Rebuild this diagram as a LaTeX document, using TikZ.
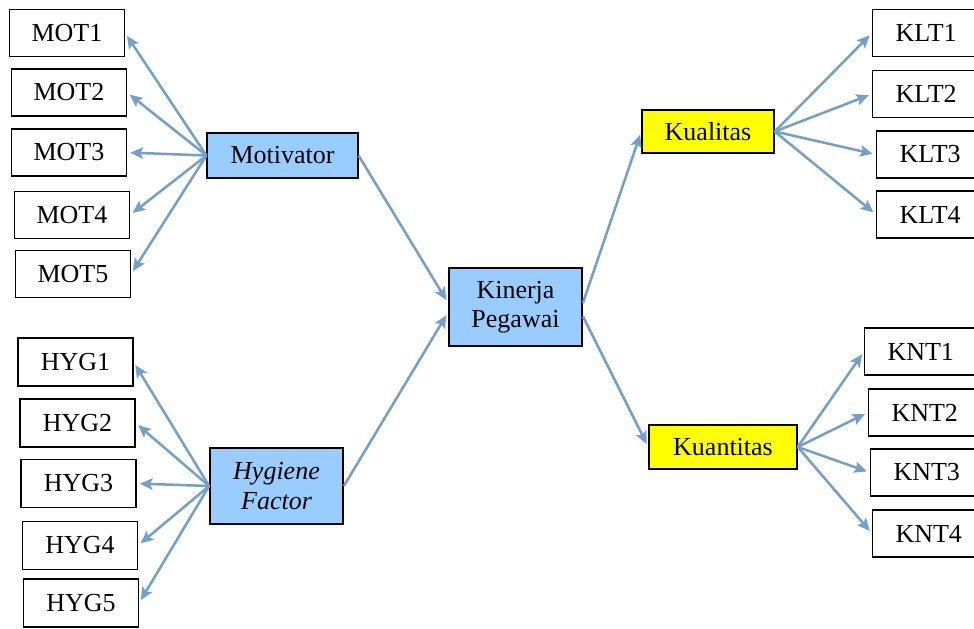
\documentclass[tikz,border=0pt]{standalone}
\usepackage{fontspec}
\setmainfont{Liberation Serif}
\usepackage{xcolor}
\usepackage{tikz}
\usetikzlibrary{positioning, arrows.meta}

\definecolor{panah}{HTML}{73A0CB}
\definecolor{biru}{HTML}{99CCFF}
\definecolor{kuning}{HTML}{FFFF00}

\begin{document}
\begin{tikzpicture}[x=0.75pt, y=-0.75pt,
    every node/.style={font=\fontsize{19.5}{22}\selectfont},
    indbox/.style={draw, line width=1.1pt, minimum width=86pt, minimum height=35pt, inner sep=0pt},
    varbox/.style={draw, line width=1.1pt, fill=biru, inner sep=0pt, align=center},
    dimbox/.style={draw, line width=1.1pt, fill=kuning, inner sep=0pt},
    link/.style={-{Stealth[length=9.5pt, width=8.5pt, inset=2pt]}, color=panah, line width=1.9pt, shorten >=2.5pt}]
          \useasboundingbox (0,0) rectangle (974,628);
          % variabel utama
          \node[varbox, minimum width=113pt, minimum height=34pt] (mtv) at (282.5,155.5) {Motivator};
          \node[varbox, minimum width=100pt, minimum height=57pt] (hyg) at (276.5,486) {\itshape Hygiene\\ \itshape Factor};
          \node[varbox, minimum width=100pt, minimum height=58.5pt] (kin) at (515.5,307) {Kinerja\\ Pegawai};
          \node[dimbox, minimum width=99pt, minimum height=32pt] (klt) at (708,131.5) {Kualitas};
          \node[dimbox, minimum width=111pt, minimum height=33pt] (knt) at (723,447) {Kuantitas};
          % indikator
          \foreach \i/\x/\y in {1/67/33, 2/69/92.5, 3/69/152.5, 4/72/215, 5/73/274} {
            \node[indbox] (mot\i) at (\x,\y) {MOT\i};
            \draw[link] (mtv.west) -- (mot\i.east);
          }
          \foreach \i/\x/\y in {1/75.5/362, 2/77.5/423, 3/78.5/483.5, 4/80/545.5, 5/81/603} {
            \node[indbox, minimum height=36pt] (hyg\i) at (\x,\y) {HYG\i};
            \draw[link] (hyg.west) -- (hyg\i.east);
          }
          \foreach \i/\x/\y in {1/872/33, 2/872/94, 3/876/154.5, 4/876/214.5} {
            \node[indbox, anchor=west, minimum width=80pt, text width=74pt, align=center] (klt\i) at (\x,\y) {KLT\i};
            \draw[link] (klt.east) -- (klt\i.west);
          }
          \foreach \i/\x/\y in {1/864/351.5, 2/868/412.5, 3/870/472.5, 4/872/533.5} {
            \node[indbox, anchor=west, minimum width=84pt, text width=78pt, align=center] (knt\i) at (\x,\y) {KNT\i};
            \draw[link] (knt.east) -- (knt\i.west);
          }
          % hubungan antar variabel
          \draw[link] (mtv.east) -- ([yshift=3pt]kin.west);
          \draw[link] (hyg.east) -- ([yshift=-4pt]kin.west);
          \draw[link] ([yshift=3pt]kin.east) -- (klt.west);
          \draw[link] ([yshift=-7pt]kin.east) -- (knt.west);
        \end{tikzpicture}
\end{document}
